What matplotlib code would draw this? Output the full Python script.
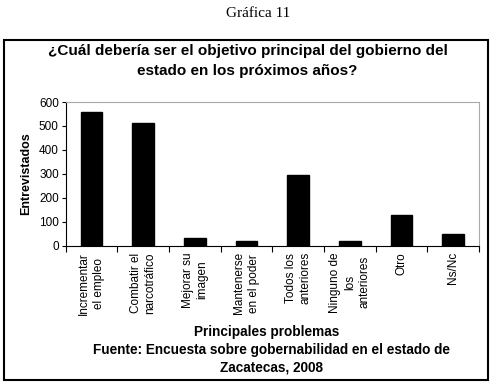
import matplotlib
matplotlib.use('Agg')
import matplotlib.pyplot as plt
from matplotlib.patches import Rectangle
import numpy as np

plt.rcParams['font.family'] = ['Liberation Sans', 'DejaVu Sans']

categorias = ['Incrementar\nel empleo', 'Combatir el\nnarcotráfico', 'Mejorar su\nimagen',
              'Mantenerse\nen el poder', 'Todos los\nanteriores', 'Ninguno de\nlos\nanteriores',
              'Otro', 'Ns/Nc']
entrevistados = [558, 512, 33, 21, 294, 21, 128, 48]
y_ticks = [0, 100, 200, 300, 400, 500, 600]

fig = plt.figure(figsize=(4.98, 3.88), dpi=100)
ax = fig.add_axes([0.132, 0.367, 0.830, 0.370])

x = np.arange(len(categorias))
ax.bar(x, entrevistados, width=0.42, color='black', edgecolor='black')

ax.set_xlim(-0.5, len(categorias) - 0.5)
ax.set_ylim(0, 600)
ax.set_yticks(y_ticks)
ax.tick_params(axis='y', labelsize=8.5, length=3, width=0.8, pad=2)

# ticks on category boundaries, labels in the middle
ax.set_xticks(np.arange(len(categorias) + 1) - 0.5)
ax.set_xticklabels([])
ax.tick_params(axis='x', length=4, width=0.8, direction='out')
for i, lab in enumerate(categorias):
    ax.text(i, -0.045, lab, transform=ax.get_xaxis_transform(), rotation=90,
            ha='center', va='top', multialignment='center', fontsize=8.5, linespacing=1.3)

for s in ['top', 'right']:
    ax.spines[s].set_color('#a8a8a8')
for s in ['left', 'bottom']:
    ax.spines[s].set_color('black')

ax.set_ylabel('Entrevistados', fontsize=9, fontweight='bold', labelpad=5)

fig.text(0.518, 0.966, 'Gráfica 11', ha='center', va='center', fontsize=11,
         family=['Liberation Serif', 'DejaVu Serif'])
fig.text(0.497, 0.842, '¿Cuál debería ser el objetivo principal del gobierno del\nestado en los próximos años?',
         ha='center', va='center', fontsize=11, fontweight='bold', linespacing=1.55)
fig.text(0.535, 0.144, 'Principales problemas', ha='center', va='center', fontsize=9.8, fontweight='bold')
fig.text(0.545, 0.075, 'Fuente: Encuesta sobre gobernabilidad en el estado de\nZacatecas, 2008',
         ha='center', va='center', fontsize=9.8, fontweight='bold', linespacing=1.35)

fig.patches.append(Rectangle((0.008, 0.021), 0.972, 0.876, transform=fig.transFigure,
                             fill=False, edgecolor='black', linewidth=1.5))

fig.savefig('out.png', dpi=100)
